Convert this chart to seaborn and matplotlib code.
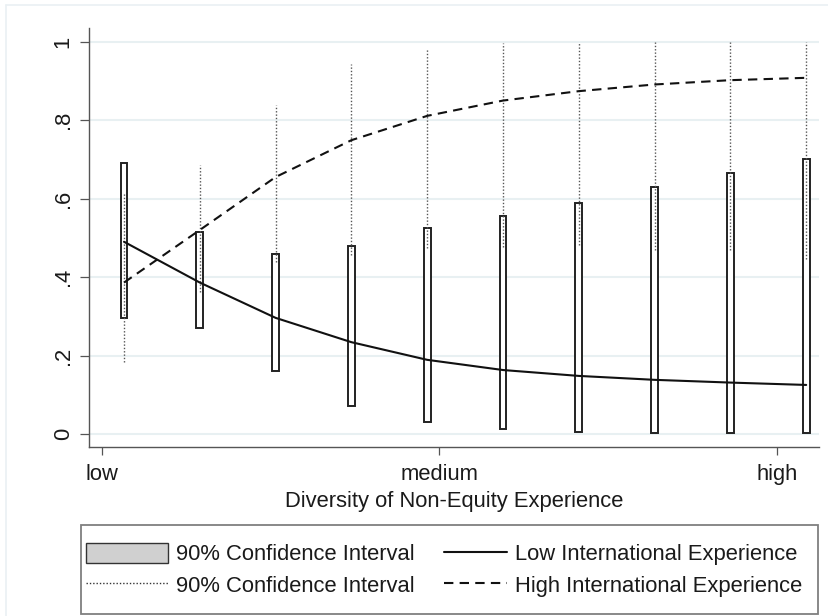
import matplotlib
matplotlib.use("Agg")
import matplotlib.pyplot as plt
from matplotlib.patches import Patch, Rectangle
from matplotlib.lines import Line2D
import numpy as np
import pandas as pd
import seaborn as sns

# Predicted probabilities across ten steps of non-equity experience diversity
steps = [0, 1, 2, 3, 4, 5, 6, 7, 8, 9]
low_pred = [0.490, 0.386, 0.296, 0.234, 0.189, 0.163, 0.148, 0.138, 0.131, 0.125]
low_ci_lo = [0.295, 0.271, 0.161, 0.072, 0.031, 0.013, 0.004, 0.002, 0.002, 0.002]
low_ci_hi = [0.690, 0.514, 0.458, 0.480, 0.524, 0.556, 0.588, 0.630, 0.666, 0.701]
high_pred = [0.386, 0.520, 0.655, 0.749, 0.811, 0.850, 0.874, 0.891, 0.902, 0.908]
high_ci_lo = [0.184, 0.363, 0.439, 0.456, 0.473, 0.476, 0.482, 0.469, 0.469, 0.445]
high_ci_hi = [0.618, 0.686, 0.839, 0.942, 0.983, 0.996, 1.000, 1.000, 1.000, 1.000]

x_tick_pos = [-0.29, 4.16, 8.61]
x_tick_labels = ["low", "medium", "high"]
y_ticks = [0, 0.2, 0.4, 0.6, 0.8, 1.0]
y_tick_labels = ["0", ".2", ".4", ".6", ".8", "1"]

sns.set_style("white")
plt.rcParams["font.family"] = ["Liberation Sans", "DejaVu Sans"]
FS = 15.8
TXT = "#1a1a1a"
AX = "#555555"

W, H = 829, 616
fig = plt.figure(figsize=(W / 100, H / 100), dpi=100)
fig.patch.set_facecolor("white")

# faint outer graph-region edges (top and left)
fig.add_artist(Line2D([6 / W, 1.0], [1 - 5 / H, 1 - 5 / H], transform=fig.transFigure,
                      color="#eaf0f3", linewidth=1.2))
fig.add_artist(Line2D([6 / W, 6 / W], [1 - 5 / H, 0.0], transform=fig.transFigure,
                      color="#eaf0f3", linewidth=1.2))

L, R, T, B = 89, 819, 28, 447.3
ax = fig.add_axes([L / W, 1 - B / H, (R - L) / W, (B - T) / H])
ax.set_facecolor("white")

# horizontal grid
for yv in y_ticks:
    ax.axhline(yv, color="#e8f0f2", linewidth=1.5, zorder=0)

# confidence bands for low international experience (hollow bars)
lo = np.array(low_ci_lo)
hi = np.array(low_ci_hi)
ax.bar(steps, hi - lo, bottom=lo, width=0.09, facecolor="white",
       edgecolor="#222222", linewidth=1.4, zorder=2)

# confidence bands for high international experience (dotted)
ax.vlines(steps, high_ci_lo, high_ci_hi, colors="#555555", linewidth=1.0,
          linestyles=(0, (1, 1.4)), zorder=3)

df = pd.DataFrame({
    "step": steps * 2,
    "prob": low_pred + high_pred,
    "group": ["Low"] * len(steps) + ["High"] * len(steps),
})
sns.lineplot(data=df, x="step", y="prob", style="group",
             dashes={"Low": "", "High": (4.5, 3)}, color="#111111",
             linewidth=1.5, legend=False, ax=ax, zorder=4)

ax.set_xlim(-0.462, 9.169)
ax.set_ylim(-0.034, 1.035)
ax.set_xticks(x_tick_pos)
ax.set_xticklabels(x_tick_labels, fontsize=FS, color=TXT)
ax.set_yticks(y_ticks)
ax.set_yticklabels(y_tick_labels, fontsize=FS, color=TXT, rotation=90, va="center")
ax.tick_params(axis="y", length=6.5, width=0.9, color=AX, pad=4.5, left=True)
ax.tick_params(axis="x", length=5.8, width=0.9, color=AX, pad=6.5, bottom=True)
ax.set_xlabel("Diversity of Non-Equity Experience", fontsize=FS, color=TXT, labelpad=4)
ax.set_ylabel("")
for s in ["top", "right"]:
    ax.spines[s].set_visible(False)
for s in ["left", "bottom"]:
    ax.spines[s].set_color(AX)
    ax.spines[s].set_linewidth(1.0)

# legend frame
fig.patches.append(Rectangle((81 / W, 1 - 614 / H), (818 - 81) / W, (614 - 525) / H,
                             transform=fig.transFigure, fill=False,
                             edgecolor="#7f7f7f", linewidth=1.3))

h1 = [Patch(facecolor="#d0d0d0", edgecolor="#333333", linewidth=1.0),
      Line2D([], [], color="#333333", linewidth=1.0, linestyle=(0, (1, 1.4)))]
leg1 = fig.legend(h1, ["90% Confidence Interval", "90% Confidence Interval"],
                  loc="upper left", bbox_to_anchor=(86 / W, 1 - 543 / H),
                  frameon=False, fontsize=FS, handlelength=3.75, handleheight=1.0,
                  handletextpad=0.33, borderpad=0, borderaxespad=0, labelspacing=0.42,
                  labelcolor=TXT)
h2 = [Line2D([], [], color="#111111", linewidth=1.5),
      Line2D([], [], color="#111111", linewidth=1.5, dashes=(4.5, 3))]
leg2 = fig.legend(h2, ["Low International Experience", "High International Experience"],
                  loc="upper left", bbox_to_anchor=(444 / W, 1 - 543 / H),
                  frameon=False, fontsize=FS, handlelength=2.85, handleheight=1.0,
                  handletextpad=0.38, borderpad=0, borderaxespad=0, labelspacing=0.42,
                  labelcolor=TXT)

fig.savefig("out.png", dpi=100)
